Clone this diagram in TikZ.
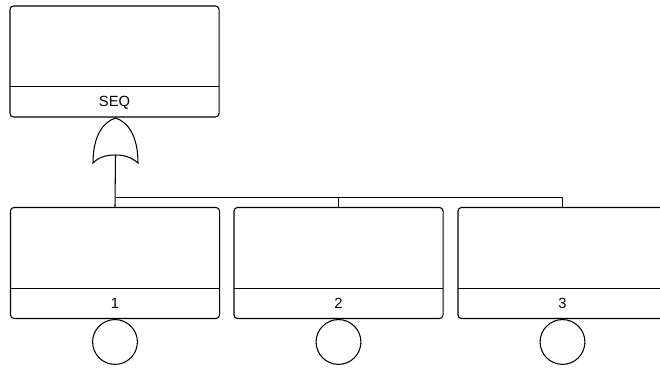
\documentclass[tikz,border=0pt]{standalone}
\usepackage{fontspec}
\setmainfont{Liberation Sans}
\usetikzlibrary{positioning}

\tikzset{
  evbox/.style={draw, line width=0.75pt, rounded corners=2.5pt,
    minimum width=5.225cm, minimum height=2.775cm, inner sep=0pt},
  tag/.style={minimum width=5.225cm, minimum height=0.75cm, inner sep=0pt,
    font=\fontsize{10.5}{12}\selectfont},
  basic/.style={draw, circle, line width=0.75pt, minimum size=1.12cm, inner sep=0pt},
  wire/.style={line width=0.75pt}
}

\begin{document}
\begin{tikzpicture}[x=0.025cm, y=-0.025cm]
  \useasboundingbox (0,0) rectangle (660,368);
  % top event
  \node[evbox] (top) at (114.5,61.5) {};
  \node[tag, anchor=south] (topTag) at (top.south) {SEQ};
  \draw[wire] (topTag.north west) -- (topTag.north east);
  % gate under the top event
  \coordinate (gate) at (115.5,155);
  \draw[wire] (115.5,118) .. controls (128,122) and (138,136) .. (138,163)
    .. controls (130,156) and (122,155) .. (gate)
    .. controls (108,155) and (100,156) .. (93,163)
    .. controls (93,136) and (103,122) .. (115.5,118) -- cycle;
  % inputs
  \node[evbox] (ev1) at (115,263) {};
  \node[evbox] (ev2) at (338.5,263) {};
  \node[evbox] (ev3) at (562.5,263) {};
  \foreach \n/\t in {ev1/1, ev2/2, ev3/3}{
    \node[tag, anchor=south] (\n Tag) at (\n.south) {\t};
    \draw[wire] (\n Tag.north west) -- (\n Tag.north east);
    \node[basic, anchor=north] (\n Circ) at (\n.south) {};
  }
  % connectors
  \coordinate (bus) at (115.5,197.5);
  \draw[wire] (gate) -- (ev1.north);
  \draw[wire] (bus) -| (ev3.north);
  \draw[wire] (ev2.north) -- (ev2.north |- bus);
\end{tikzpicture}
\end{document}
